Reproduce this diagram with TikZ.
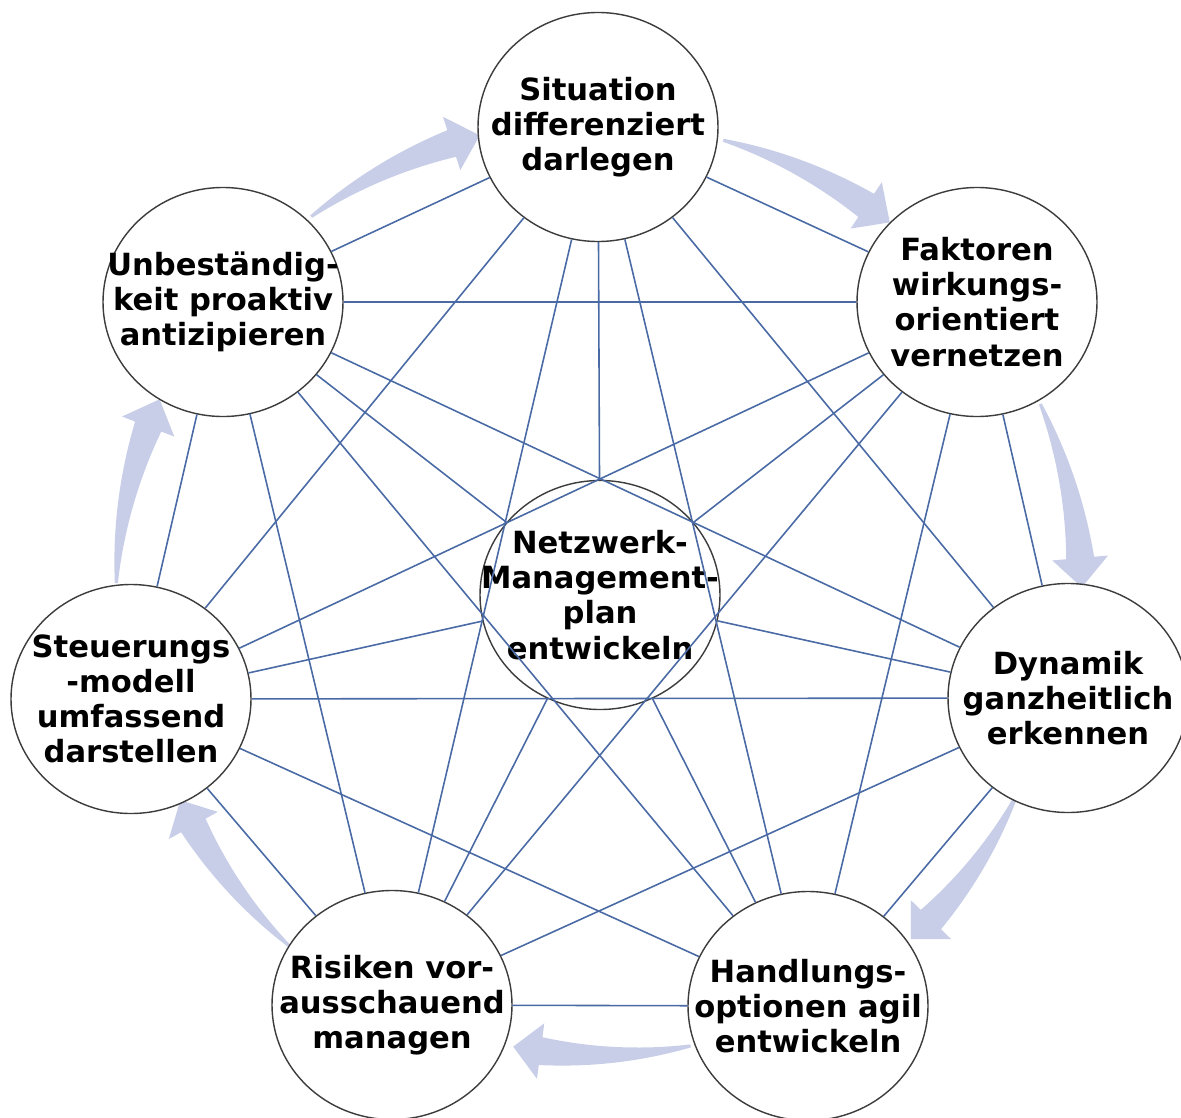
\documentclass[tikz,border=0pt]{standalone}
\usepackage{fontspec}
\setsansfont{DejaVu Sans}
\usetikzlibrary{shapes.geometric}
\definecolor{LinkBlue}{HTML}{4A6AA5}
\definecolor{RimGray}{HTML}{3C3C3C}
\definecolor{FlowLilac}{HTML}{C8CEE8}

% curved, tapering arrow round the ring: #1 tail angle, #2 radius
\newcommand{\flowarrow}[2]{%
  \fill[FlowLilac, shift={(6,-6)}]
    plot[domain=0:1, samples=25] ({#1-19*\x}:{#2+0.015+0.125*\x})
    -- ({#1-19}:{#2+0.28}) -- ({#1-22.5}:{#2}) -- ({#1-19}:{#2-0.28})
    -- plot[domain=1:0, samples=25] ({#1-19*\x}:{#2-0.015-0.125*\x}) -- cycle;}

\begin{document}
\begin{tikzpicture}[
    bubble/.style={ellipse, draw=RimGray, line width=0.4pt, fill=white,
      minimum width=2.40cm, minimum height=2.29cm, inner sep=0pt},
    bubbletext/.style={font=\sffamily\bfseries\fontsize{8.7}{10}\selectfont,
      align=center, text=black},
    link/.style={draw=LinkBlue, line width=0.45pt}]
  \useasboundingbox (0,0) rectangle (11.81,-11.17);

  % arrows between neighbouring steps
  \flowarrow{178}{4.84}
  \flowarrow{127}{4.80}
  \flowarrow{75}{4.76}
  \flowarrow{24}{4.82}
  \flowarrow{-25}{4.60}
  \flowarrow{-78.5}{4.55}
  \flowarrow{-132}{4.65}

  % steps
  \node[bubble, label={[bubbletext]center:{Situation\\differenziert\\darlegen}}] (sit) at (5.98, -1.27) {};
  \node[bubble, label={[bubbletext]center:{Faktoren\\wirkungs-\\orientiert\\vernetzen}}] (fak) at (9.77, -3.02) {};
  \node[bubble, label={[bubbletext]center:{Dynamik\\ganzheitlich\\erkennen}}] (dyn) at (10.68, -6.98) {};
  \node[bubble, label={[bubbletext]center:{Handlungs-\\optionen agil\\entwickeln}}] (hand) at (8.08, -10.06) {};
  \node[bubble, label={[bubbletext]center:{Risiken vor-\\ausschauend\\managen}}] (ris) at (3.92, -10.05) {};
  \node[bubble, label={[bubbletext]center:{Steuerungs\\-modell\\umfassend\\darstellen}}] (steu) at (1.31, -6.99) {};
  \node[bubble, label={[bubbletext]center:{Unbeständig-\\keit proaktiv\\antizipieren}}] (unb) at (2.23, -3.02) {};
  \node[bubble, label={[bubbletext]center:{Netzwerk-\\Management-\\plan\\entwickeln}}] (netz) at (6.00, -5.95) {};

  % every step linked with every other
  \draw[link] (sit) -- (fak)  (sit) -- (dyn)  (sit) -- (hand) (sit) -- (ris);
  \draw[link] (sit) -- (steu) (sit) -- (unb)  (sit) -- (netz);
  \draw[link] (fak) -- (dyn)  (fak) -- (hand) (fak) -- (ris)  (fak) -- (steu);
  \draw[link] (fak) -- (unb)  (fak) -- (netz);
  \draw[link] (dyn) -- (hand) (dyn) -- (ris)  (dyn) -- (steu) (dyn) -- (unb);
  \draw[link] (dyn) -- (netz);
  \draw[link] (hand) -- (ris) (hand) -- (steu) (hand) -- (unb) (hand) -- (netz);
  \draw[link] (ris) -- (steu) (ris) -- (unb)  (ris) -- (netz);
  \draw[link] (steu) -- (unb) (steu) -- (netz);
  \draw[link] (unb) -- (netz);
\end{tikzpicture}
\end{document}
